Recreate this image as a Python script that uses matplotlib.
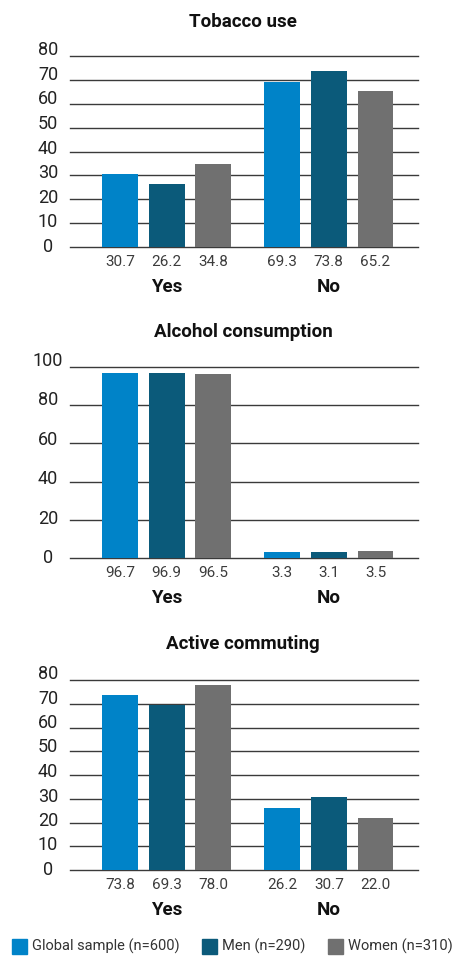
import matplotlib
matplotlib.use("Agg")
import matplotlib.pyplot as plt
from matplotlib.patches import Rectangle
import matplotlib.transforms as mtrans

plt.rcParams['font.family'] = ['Roboto', 'DejaVu Sans']

# data
titles = ["Tobacco use", "Alcohol consumption", "Active commuting"]
categories = ["Yes", "No"]
series = ["Global sample (n=600)", "Men (n=290)", "Women (n=310)"]
tobacco = [[30.7, 26.2, 34.8], [69.3, 73.8, 65.2]]
alcohol = [[96.7, 96.9, 96.5], [3.3, 3.1, 3.5]]
commuting = [[73.8, 69.3, 78.0], [26.2, 30.7, 22.0]]
panel_values = [tobacco, alcohol, commuting]
y_ticks = [[0, 10, 20, 30, 40, 50, 60, 70, 80],
           [0, 20, 40, 60, 80, 100],
           [0, 10, 20, 30, 40, 50, 60, 70, 80]]

colors = ["#0083c8", "#0b5a7a", "#707070"]
grid_col = "#3a3a3a"

W, H = 456, 956
fig = plt.figure(figsize=(W / 100, H / 100), dpi=100)

# pixel layout of each panel: (title_y, top_grid_y, zero_y)
layout = [(22, 56, 247), (332, 367, 558), (644, 680, 870)]
ax_left, ax_right = 70, 418
bar_w = 0.77
group_gap = 3.47

for i in range(3):
    title_y, top_y, zero_y = layout[i]
    ax = fig.add_axes([ax_left / W, (H - zero_y) / H,
                       (ax_right - ax_left) / W, (zero_y - top_y) / H])
    vals = panel_values[i]
    ticks = y_ticks[i]
    positions = []
    labels = []
    for g, cat in enumerate(categories):
        for s in range(3):
            x = g * group_gap + s
            ax.bar(x, vals[g][s], width=bar_w, color=colors[s], zorder=2)
            positions.append(x)
            labels.append(f"{vals[g][s]:.1f}")
        ax.text(g * group_gap + 1, -40 / (zero_y - top_y) * ticks[-1], cat,
                ha='center', va='center', fontsize=13.5, fontweight='bold',
                color='#111111')

    for t in ticks:
        ax.axhline(t, color=grid_col, lw=1.0, zorder=1, clip_on=False)
        # labels drift slightly above the grid towards the top
        off = mtrans.ScaledTranslation(0, 6 * t / ticks[-1] / 100, fig.dpi_scale_trans)
        ax.text(-22 / (ax_right - ax_left), t, str(t), ha='center', va='center',
                fontsize=13, color='#222222',
                transform=ax.get_yaxis_transform() + off)

    ax.set_xlim(-1.07, 6.38)
    ax.set_ylim(0, ticks[-1])
    ax.set_yticks([])
    ax.set_xticks(positions)
    ax.set_xticklabels(labels)
    ax.tick_params(axis='x', length=0, pad=6, labelsize=11, labelcolor='#3c3c3c')
    for sp in ax.spines.values():
        sp.set_visible(False)
    ax.set_facecolor('none')

    fig.text(243 / W, 1 - title_y / H, titles[i], ha='center', va='center',
             fontsize=13.5, fontweight='bold', color='#111111')

# legend along the bottom
leg_y = 946
box_x = [12, 202, 328]
for s in range(3):
    fig.add_artist(Rectangle((box_x[s] / W, 1 - (leg_y + 7.5) / H), 15 / W, 15 / H,
                             transform=fig.transFigure, color=colors[s]))
    fig.text((box_x[s] + 20) / W, 1 - leg_y / H, series[s], ha='left',
             va='center', fontsize=10.5, color='#333333')

fig.savefig("out.png", dpi=100)
